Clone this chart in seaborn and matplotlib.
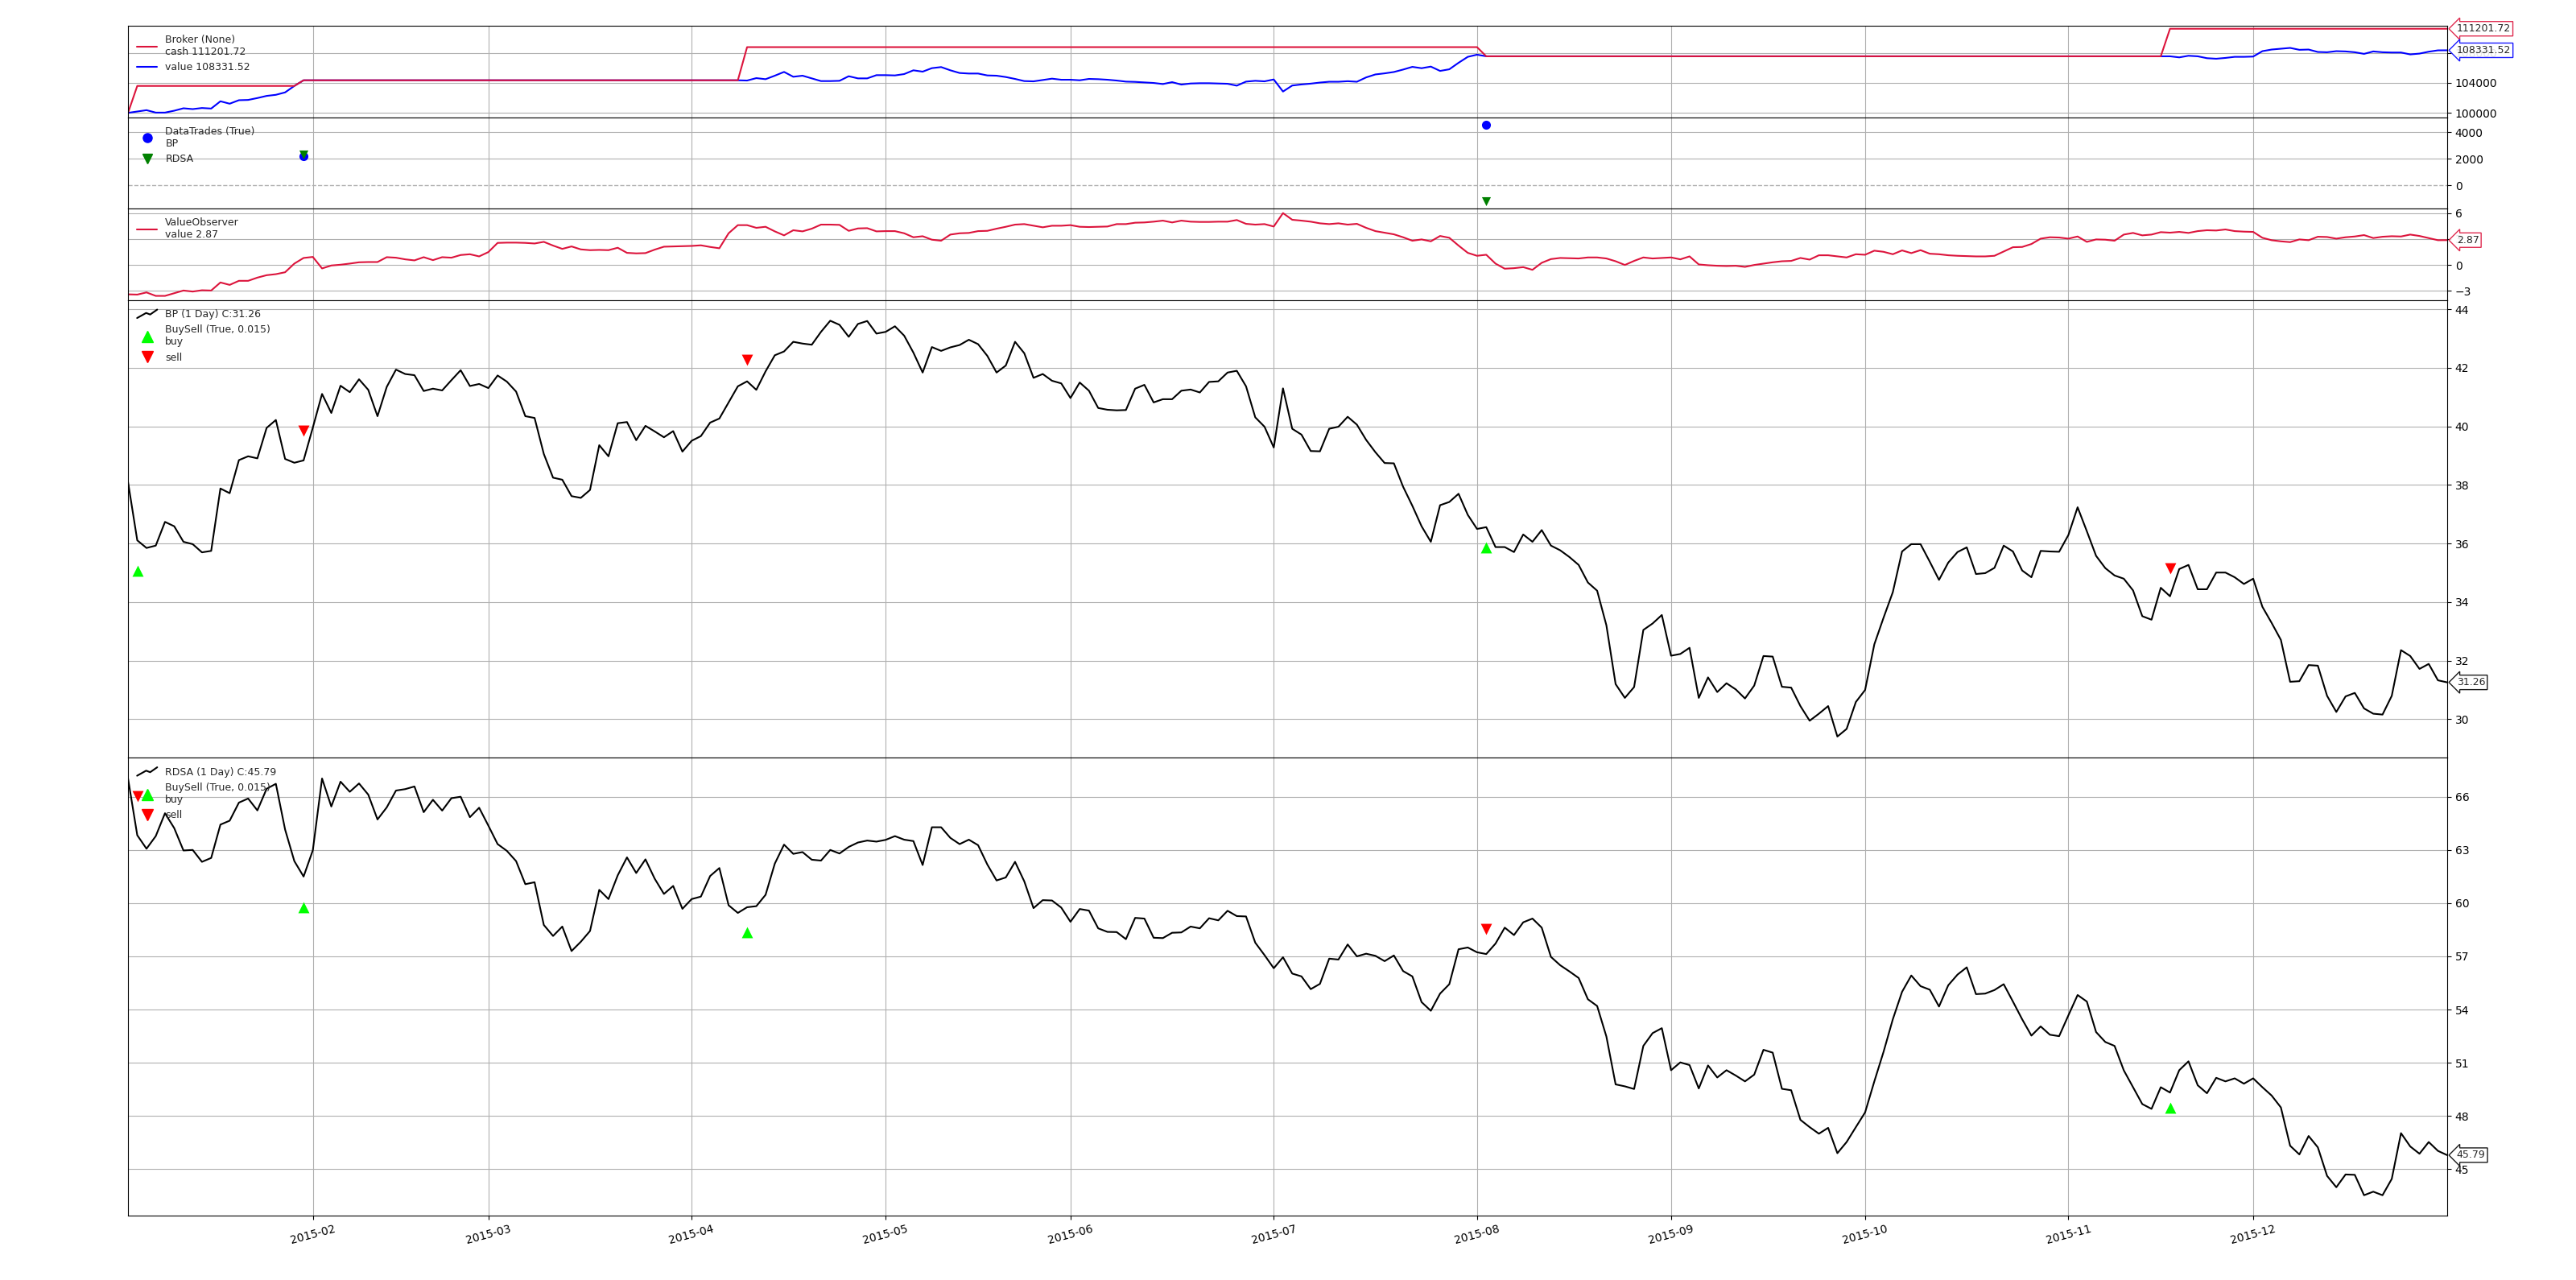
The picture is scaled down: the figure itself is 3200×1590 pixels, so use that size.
import numpy as np
import pandas as pd
import matplotlib
matplotlib.use('Agg')
import matplotlib.pyplot as plt
import matplotlib.transforms as mtransforms
from matplotlib.lines import Line2D
from matplotlib.legend_handler import HandlerBase
import seaborn as sns

# Calendário NYSE 2015 (barras diárias)
feriados = ['2015-01-01', '2015-01-19', '2015-02-16', '2015-04-03', '2015-05-25',
            '2015-07-03', '2015-09-07', '2015-11-26', '2015-12-25']
datas = pd.bdate_range('2015-01-02', '2015-12-31', freq='C', holidays=feriados)

bp_close = [
    38.10, 36.11, 35.85, 35.93, 36.74, 36.59, 36.06, 35.98, 35.70, 35.75,
    37.88, 37.72, 38.85, 38.98, 38.91, 39.95, 40.22, 38.89, 38.76, 38.84,
    39.96, 41.11, 40.46, 41.39, 41.17, 41.61, 41.25, 40.35, 41.35, 41.94,
    41.79, 41.75, 41.21, 41.29, 41.23, 41.58, 41.92, 41.38, 41.45, 41.31,
    41.74, 41.53, 41.19, 40.35, 40.29, 39.06, 38.25, 38.18, 37.62, 37.56,
    37.83, 39.36, 38.98, 40.11, 40.15, 39.53, 40.02, 39.83, 39.63, 39.84,
    39.14, 39.51, 39.67, 40.13, 40.27, 40.82, 41.37, 41.54, 41.25, 41.88,
    42.43, 42.56, 42.89, 42.83, 42.79, 43.23, 43.61, 43.47, 43.06, 43.50,
    43.60, 43.17, 43.23, 43.42, 43.10, 42.52, 41.84, 42.71, 42.58, 42.70,
    42.78, 42.96, 42.81, 42.41, 41.84, 42.08, 42.89, 42.50, 41.66, 41.79,
    41.56, 41.47, 40.97, 41.50, 41.22, 40.63, 40.57, 40.55, 40.56, 41.29,
    41.42, 40.82, 40.93, 40.93, 41.22, 41.26, 41.16, 41.52, 41.54, 41.84,
    41.90, 41.37, 40.31, 39.99, 39.28, 41.30, 39.92, 39.72, 39.16, 39.15,
    39.92, 39.99, 40.33, 40.06, 39.54, 39.12, 38.75, 38.74, 37.94, 37.29,
    36.59, 36.06, 37.31, 37.42, 37.70, 36.98, 36.50, 36.56, 35.88, 35.88,
    35.71, 36.31, 36.06, 36.46, 35.93, 35.77, 35.54, 35.27, 34.67, 34.39,
    33.21, 31.20, 30.73, 31.10, 33.05, 33.27, 33.56, 32.17, 32.23, 32.44,
    30.73, 31.43, 30.93, 31.23, 31.02, 30.71, 31.15, 32.16, 32.14, 31.11,
    31.08, 30.45, 29.95, 30.19, 30.45, 29.41, 29.67, 30.59, 31.00, 32.56,
    33.47, 34.34, 35.73, 35.98, 35.98, 35.38, 34.76, 35.35, 35.71, 35.87,
    34.96, 34.99, 35.17, 35.93, 35.73, 35.08, 34.85, 35.75, 35.73, 35.72,
    36.29, 37.24, 36.42, 35.58, 35.16, 34.91, 34.80, 34.40, 33.52, 33.40,
    34.49, 34.20, 35.13, 35.27, 34.44, 34.44, 35.01, 35.01, 34.85, 34.62,
    34.80, 33.84, 33.29, 32.71, 31.28, 31.30, 31.85, 31.83, 30.80, 30.25,
    30.78, 30.90, 30.37, 30.19, 30.16, 30.80, 32.36, 32.16, 31.72, 31.89,
    31.33, 31.26,
]

rdsa_close = [
    67.03, 63.83, 63.07, 63.78, 65.07, 64.23, 62.97, 63.00, 62.33, 62.55,
    64.43, 64.65, 65.67, 65.90, 65.23, 66.45, 66.73, 64.15, 62.37, 61.50,
    62.98, 67.03, 65.45, 66.85, 66.28, 66.75, 66.12, 64.72, 65.40, 66.35,
    66.43, 66.58, 65.13, 65.83, 65.22, 65.92, 66.00, 64.85, 65.38, 64.37,
    63.33, 62.95, 62.37, 61.07, 61.18, 58.77, 58.15, 58.68, 57.30, 57.82,
    58.43, 60.75, 60.23, 61.57, 62.58, 61.70, 62.47, 61.38, 60.52, 60.97,
    59.68, 60.23, 60.37, 61.53, 61.98, 59.88, 59.45, 59.77, 59.83, 60.47,
    62.23, 63.30, 62.78, 62.88, 62.45, 62.40, 63.00, 62.80, 63.17, 63.42,
    63.53, 63.47, 63.57, 63.78, 63.58, 63.50, 62.15, 64.28, 64.28, 63.68,
    63.33, 63.58, 63.27, 62.18, 61.28, 61.45, 62.33, 61.23, 59.72, 60.17,
    60.15, 59.75, 58.95, 59.67, 59.58, 58.58, 58.38, 58.37, 57.97, 59.17,
    59.13, 58.05, 58.03, 58.33, 58.35, 58.68, 58.58, 59.15, 59.03, 59.57,
    59.27, 59.25, 57.77, 57.07, 56.33, 56.95, 56.03, 55.87, 55.15, 55.45,
    56.87, 56.82, 57.67, 57.00, 57.15, 57.03, 56.73, 57.05, 56.17, 55.87,
    54.42, 53.93, 54.90, 55.43, 57.40, 57.50, 57.23, 57.13, 57.72, 58.62,
    58.20, 58.92, 59.13, 58.62, 56.97, 56.50, 56.15, 55.78, 54.58, 54.20,
    52.48, 49.78, 49.67, 49.52, 51.95, 52.67, 52.95, 50.58, 51.02, 50.87,
    49.55, 50.85, 50.17, 50.58, 50.28, 49.95, 50.33, 51.73, 51.57, 49.53,
    49.45, 47.78, 47.37, 47.00, 47.33, 45.90, 46.53, 47.37, 48.20, 49.95,
    51.62, 53.45, 55.00, 55.92, 55.32, 55.12, 54.17, 55.37, 55.97, 56.38,
    54.87, 54.90, 55.10, 55.43, 54.45, 53.45, 52.53, 53.05, 52.58, 52.50,
    53.67, 54.82, 54.45, 52.73, 52.17, 51.95, 50.57, 49.62, 48.67, 48.40,
    49.62, 49.32, 50.58, 51.08, 49.73, 49.28, 50.15, 49.95, 50.12, 49.82,
    50.12, 49.62, 49.15, 48.48, 46.32, 45.83, 46.87, 46.23, 44.62, 43.98,
    44.70, 44.68, 43.53, 43.73, 43.53, 44.45, 47.03, 46.28, 45.87, 46.53,
    46.03, 45.79,
]

value_observer = [
    -3.39, -3.42, -3.17, -3.57, -3.57, -3.26, -2.95, -3.07, -2.92, -2.95,
    -2.02, -2.30, -1.83, -1.83, -1.46, -1.18, -1.06, -0.84, 0.16, 0.81,
    0.93, -0.40, -0.06, 0.03, 0.16, 0.31, 0.34, 0.34, 0.90, 0.84,
    0.65, 0.53, 0.90, 0.56, 0.90, 0.84, 1.15, 1.24, 0.99, 1.49,
    2.55, 2.58, 2.58, 2.55, 2.48, 2.67, 2.24, 1.86, 2.14, 1.80,
    1.71, 1.74, 1.71, 1.99, 1.40, 1.34, 1.37, 1.77, 2.11, 2.14,
    2.17, 2.20, 2.27, 2.08, 1.93, 3.66, 4.60, 4.60, 4.29, 4.41,
    3.88, 3.42, 4.01, 3.88, 4.19, 4.66, 4.66, 4.63, 3.94, 4.22,
    4.25, 3.88, 3.91, 3.91, 3.66, 3.20, 3.32, 2.92, 2.80, 3.51,
    3.66, 3.70, 3.91, 3.94, 4.19, 4.41, 4.66, 4.72, 4.53, 4.35,
    4.53, 4.53, 4.60, 4.41, 4.38, 4.41, 4.44, 4.72, 4.72, 4.88,
    4.91, 5.00, 5.12, 4.91, 5.12, 5.00, 4.97, 4.97, 5.00, 5.00,
    5.19, 4.75, 4.66, 4.72, 4.44, 5.99, 5.22, 5.12, 5.00, 4.81,
    4.72, 4.81, 4.66, 4.75, 4.29, 3.91, 3.73, 3.54, 3.20, 2.80,
    2.95, 2.73, 3.35, 3.14, 2.24, 1.40, 1.06, 1.18, 0.16, -0.43,
    -0.37, -0.25, -0.56, 0.25, 0.68, 0.81, 0.78, 0.75, 0.87, 0.87,
    0.75, 0.43, 0.00, 0.47, 0.87, 0.75, 0.81, 0.87, 0.65, 0.99,
    0.06, -0.03, -0.09, -0.12, -0.09, -0.22, 0.00, 0.16, 0.31, 0.43,
    0.47, 0.81, 0.62, 1.12, 1.12, 0.99, 0.87, 1.24, 1.18, 1.65,
    1.52, 1.24, 1.68, 1.37, 1.71, 1.30, 1.24, 1.12, 1.06, 1.02,
    0.99, 0.99, 1.06, 1.55, 2.05, 2.08, 2.42, 3.04, 3.20, 3.17,
    3.04, 3.29, 2.67, 2.95, 2.92, 2.80, 3.51, 3.70, 3.42, 3.51,
    3.79, 3.73, 3.82, 3.70, 3.91, 4.01, 3.98, 4.10, 3.91, 3.85,
    3.82, 3.14, 2.86, 2.73, 2.64, 2.95, 2.86, 3.26, 3.23, 3.04,
    3.20, 3.29, 3.45, 3.11, 3.26, 3.32, 3.29, 3.51, 3.35, 3.11,
    2.86, 2.87,
]

# Caixa do broker: níveis e quantidade de barras em cada nível
cash_niveis = [100000.0, 103587.0, 104340.0, 108753.0, 107534.0, 111201.72]
cash_barras = [1, 18, 48, 80, 74, 31]

# Valor da carteira nos períodos com posição aberta (fora deles = caixa)
valor_jan = [100000, 100179, 100359, 100036, 100036, 100287, 100610, 100502, 100646,
             100574, 101542, 101220, 101686, 101722, 101973, 102260, 102403, 102726,
             103587]
valor_meio = [104304, 104627, 104484, 104950, 105452, 104807, 104950, 104591, 104233,
              104233, 104269, 104878, 104591, 104591, 105022, 105022, 104986, 105165,
              105667, 105488, 105954, 106098, 105667, 105309, 105237, 105237, 104986,
              104950, 104771, 104520, 104233, 104197, 104376, 104556, 104412, 104412,
              104340, 104520, 104484, 104412, 104304, 104161, 104125, 104053, 103982,
              103838, 104089, 103766, 103910, 103946, 103946, 103910, 103874, 103623,
              104161, 104269, 104197, 104448, 102840, 103640, 103784, 103892, 104036,
              104144, 104144, 104216, 104144, 104721, 105117, 105261, 105442, 105766,
              106126, 105946, 106162, 105586, 105802, 106667, 107460, 107748]
valor_fim = [107532, 107388, 107604, 107532, 107280, 107208, 107316, 107460, 107460,
             107496, 108217, 108433, 108541, 108649, 108397, 108433, 108109, 108073,
             108217, 108181, 108073, 107856, 108181, 108073, 108037, 108037, 107784,
             107892, 108145, 108325, 108331.52]

# Trades fechados (DataTrades) e marcas de compra/venda
trade_barras = [19, 147]
trade_bp = [2200, 4582]
trade_rdsa = [2300, -1160]

bp_buy_x, bp_buy_y = [1, 147], [35.08, 35.86]
bp_sell_x, bp_sell_y = [19, 67, 221], [39.86, 42.26, 35.15]
rdsa_buy_x, rdsa_buy_y = [19, 67, 221], [59.75, 58.38, 48.48]
rdsa_sell_x, rdsa_sell_y = [1, 147], [66.03, 58.53]

# Monta séries
idx = np.arange(len(datas))
cash = np.repeat(cash_niveis, cash_barras)
valor = cash.copy()
valor[0:19] = valor_jan
valor[67:147] = valor_meio
valor[221:252] = valor_fim

meses = pd.Series(idx, index=datas).groupby(datas.to_period('M')).first()
tick_pos = meses.values[1:]
tick_lab = [datas[i].strftime('%Y-%m') for i in tick_pos]

sns.set_style('whitegrid')
plt.rcParams.update({
    'axes.edgecolor': 'black',
    'axes.linewidth': 0.8,
    'grid.color': '#b0b0b0',
    'grid.linewidth': 0.8,
    'grid.linestyle': '-',
    'xtick.color': 'black',
    'ytick.color': 'black',
    'font.size': 10,
})
plt.rcParams['font.family'] = ['DejaVu Sans']


class ZigZag(HandlerBase):
    def create_artists(self, legend, orig, xd, yd, width, height, fontsize, trans):
        xs = np.array([0.0, 0.45, 0.65, 1.0]) * width - xd
        ys = (np.array([-0.1, 0.62, 0.4, 1.1]) * height) - yd
        ln = Line2D(xs, ys, color=orig.get_color(), lw=orig.get_linewidth())
        ln.set_transform(trans)
        return [ln]


def tag(ax, y, texto, cor):
    trans = mtransforms.blended_transform_factory(ax.transAxes, ax.transData)
    ax.annotate(texto, xy=(1.0, y), xycoords=trans, xytext=(8.5, 0),
                textcoords='offset points', ha='left', va='center', fontsize=9,
                annotation_clip=False,
                bbox=dict(boxstyle='larrow,pad=0.2', fc='white', ec=cor, lw=1, alpha=0.9))


fig = plt.figure(figsize=(32, 15.9), dpi=100)
gs = fig.add_gridspec(5, 1, height_ratios=[1, 1, 1, 5, 5], hspace=0,
                      left=0.0497, right=0.95, top=0.98, bottom=0.0503)
axs = [fig.add_subplot(gs[0])]
for i in range(1, 5):
    axs.append(fig.add_subplot(gs[i], sharex=axs[0]))
ax1, ax2, ax3, ax4, ax5 = axs

# Painel 1: Broker
sns.lineplot(x=idx, y=valor, ax=ax1, color='blue', linewidth=1.5, legend=False)
sns.lineplot(x=idx, y=cash, ax=ax1, color='crimson', linewidth=1.5, legend=False)
ax1.set_ylim(99430, 111620)
ax1.set_yticks([100000, 104000, 108000])
h1 = [Line2D([], [], color='crimson', lw=1.5), Line2D([], [], color='blue', lw=1.5)]
ax1.legend(h1, ['Broker (None)\ncash 111201.72', 'value 108331.52'],
           loc='upper left', frameon=False, fontsize=9)
tag(ax1, cash[-1], '111201.72', 'crimson')
tag(ax1, valor[-1], '108331.52', 'blue')

# Painel 2: DataTrades
ax2.axhline(0, color='#b0b0b0', linestyle='--', linewidth=1.0)
sns.scatterplot(x=trade_barras, y=trade_bp, ax=ax2, marker='o', color='blue',
                s=64, linewidth=0, zorder=3)
sns.scatterplot(x=trade_barras, y=trade_rdsa, ax=ax2, marker='v', color='green',
                s=64, linewidth=0, zorder=3)
ax2.set_ylim(-1739, 5127)
ax2.set_yticks([0, 2000, 4000])
ax2.yaxis.grid(False)
for y in (2000, 4000):
    ax2.axhline(y, color='#b0b0b0', linewidth=0.8, zorder=0.5)
h2 = [Line2D([], [], marker='o', color='blue', ls='none', ms=8),
      Line2D([], [], marker='v', color='green', ls='none', ms=8)]
ax2.legend(h2, ['DataTrades (True)\nBP', 'RDSA'], loc='upper left',
           frameon=False, fontsize=9, numpoints=1)

# Painel 3: ValueObserver
sns.lineplot(x=idx, y=value_observer, ax=ax3, color='crimson', linewidth=1.5, legend=False)
ax3.set_ylim(-4.07, 6.5)
ax3.set_yticks([-3, 0, 3, 6])
ax3.legend([Line2D([], [], color='crimson', lw=1.5)], ['ValueObserver\nvalue 2.87'],
           loc='upper left', frameon=False, fontsize=9)
tag(ax3, value_observer[-1], '2.87', 'crimson')

# Painéis 4 e 5: dados + BuySell
paineis = [
    (ax4, bp_close, 'BP (1 Day) C:31.26', bp_buy_x, bp_buy_y, bp_sell_x, bp_sell_y,
     (28.68, 44.31), list(range(30, 45, 2)), '31.26'),
    (ax5, rdsa_close, 'RDSA (1 Day) C:45.79', rdsa_buy_x, rdsa_buy_y, rdsa_sell_x,
     rdsa_sell_y, (42.38, 68.19), list(range(45, 67, 3)), '45.79'),
]
for ax, serie, nome, bx, by, sx, sy, lim, ticks, ult in paineis:
    sns.lineplot(x=idx, y=serie, ax=ax, color='black', linewidth=1.5, legend=False)
    sns.scatterplot(x=bx, y=by, ax=ax, marker='^', color='lime', s=100, linewidth=0, zorder=3)
    sns.scatterplot(x=sx, y=sy, ax=ax, marker='v', color='red', s=100, linewidth=0, zorder=3)
    ax.set_ylim(*lim)
    ax.set_yticks(ticks)
    hz = Line2D([], [], color='black', lw=1.5)
    hb = Line2D([], [], marker='^', color='lime', ls='none', ms=9.5)
    hs = Line2D([], [], marker='v', color='red', ls='none', ms=9.5)
    ax.legend([hz, hb, hs], [nome, 'BuySell (True, 0.015)\nbuy', 'sell'],
              loc='upper left', frameon=False, fontsize=9, numpoints=1,
              handler_map={hz: ZigZag()})
    tag(ax, serie[-1], ult, 'black')

for ax in axs:
    ax.set_xlim(0, len(idx) - 1)
    ax.set_xticks(tick_pos)
    ax.grid(True, axis='x')
    ax.yaxis.tick_right()
    ax.tick_params(axis='y', which='both', right=True, left=False, labelright=True,
                   labelleft=False, length=3.5, width=0.8, direction='out', labelsize=10)
    ax.tick_params(axis='x', bottom=True, length=3.5, width=0.8, direction='out')
    ax.ticklabel_format(axis='y', style='plain', useOffset=False)
    ax.set_xlabel('')
    ax.set_ylabel('')
    for sp in ax.spines.values():
        sp.set_color('black')
        sp.set_linewidth(0.8)
for ax in axs[:-1]:
    plt.setp(ax.get_xticklabels(), visible=False)
ax5.set_xticklabels(tick_lab, rotation=15, ha='center', fontsize=10)

fig.savefig('out.png', dpi=100)
